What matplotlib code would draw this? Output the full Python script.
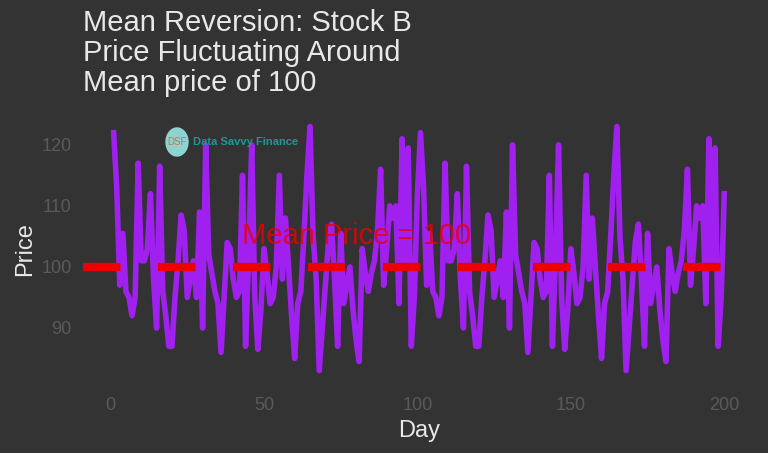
import matplotlib
matplotlib.use("Agg")
import matplotlib.pyplot as plt
import numpy as np

plt.rcParams['font.family'] = ['Liberation Sans', 'DejaVu Sans']

base = [122,113,97,105.5,96,95,92,95,117,101,101,103,112,98,90,116.5,96,92,87,87,
        95,101,108.5,106,95,98,101,95,109,90,120,102,99,96,94,86,95,104,103,98,
        95,96,115,87,102,120,95,86.5,93,103,99,94,95,100,115,98,108,100,92,85,
        94,96,105,115,123,105,98,83,90,97,104,107,98,87,105.5,94,97,100,93,88,
        84.5,103,99,96,99,101,106,116,97,103,110,108,110,94,121,101,119.5,87,95,112]
days = np.arange(1, 201)
prices = base + base
mean_price = 100

fig = plt.figure(figsize=(7.68, 4.53), dpi=100, facecolor='#333333')
ax = fig.add_axes([0.108, 0.148, 0.875, 0.605], facecolor='#333333')
ax.plot(days, prices, color='#a020f0', lw=4)
ax.axhline(mean_price, color='#ee0000', lw=6, ls=(0, (4.5, 4.5)))
ax.text(80, 105, 'Mean Price = 100', color='#ee0000', fontsize=21, ha='center', va='center', alpha=0.8)
ax.set_xlim(-9, 210)
ax.set_ylim(80.5, 125.4)
ax.set_xticks([0, 50, 100, 150, 200])
ax.set_yticks([90, 100, 110, 120])
for s in ax.spines.values():
    s.set_visible(False)
ax.tick_params(colors='#5a5a5a', labelsize=13, length=0, pad=8)
ax.set_xlabel('Day', color='#e8e8e8', fontsize=17)
ax.set_ylabel('Price', color='#e8e8e8', fontsize=17)
fig.text(0.108, 0.785, 'Mean Reversion: Stock B\nPrice Fluctuating Around\nMean price of 100',
         color='#e8e8e8', fontsize=21, ha='left', va='bottom', linespacing=1.1)
fig.patches.append(matplotlib.patches.Ellipse((177/768, 1-142/453), 22/768, 28/453,
                   transform=fig.transFigure, color='#8fd3d0', zorder=5))
fig.text(177/768, 1-142/453, 'DSF', color='#e8683a', fontsize=7, ha='center', va='center', zorder=6)
fig.text(193/768, 1-142/453, 'Data Savvy Finance', color='#1a9a96', fontsize=8, fontweight='bold',
         ha='left', va='center')
fig.savefig('out.png', dpi=100, facecolor='#333333')
